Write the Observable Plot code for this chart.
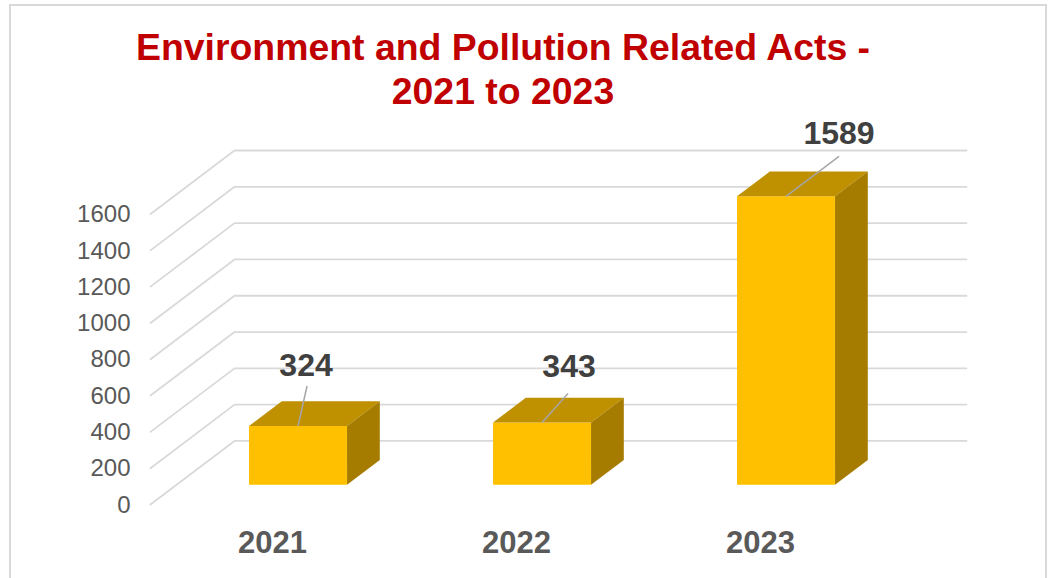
<!DOCTYPE html>
<html>
<head>
<meta charset="utf-8">
<script src="https://cdn.jsdelivr.net/npm/d3@7"></script>
<script src="https://cdn.jsdelivr.net/npm/@observablehq/plot@0.6"></script>
<style>
  html,body{margin:0;padding:0;background:#fff;width:1050px;height:578px;overflow:hidden;font-family:"Liberation Sans",Arial,sans-serif}
  #frame{position:absolute;left:9px;top:4px;width:1038px;height:600px;border:2px solid #d9d9d9;box-sizing:border-box;pointer-events:none}
  #title{position:absolute;left:0;top:25px;width:1006px;text-align:center;color:#c00000;font-weight:700;font-size:37.4px;line-height:44px;margin:0}
  #chart{position:absolute;left:0;top:120px}
  svg{overflow:visible}
</style>
</head>
<body>
<div id="frame"></div>
<h1 id="title">Environment and Pollution Related Acts -<br>2021 to 2023</h1>
<div id="chart"></div>
<script>
const categories = ["2021", "2022", "2023"];
const values = [324, 343, 1589];
const yTicks = [0, 200, 400, 600, 800, 1000, 1200, 1400, 1600];

// 3D projection constants, expressed in scale units
const depthX = 84 / 244, depthY = 350;
const barHalf = 49 / 244, barNear = 0.31, barFar = 0.70;
const pxX = 1 / 244, pxY = 1600 / 290.4;
const project = (u, v, d) => ({x: u + d * depthX, y: v + d * depthY});

// offsets of value labels and of leader ends from the bar's front-top centre, in px
const leaderOffset = [[9, -40], [26, -29], [53, -40]];
const labelOffset = [[8, -60], [27, -56], [53, -63]];

const quad = (id, pts) => pts.map(([u, v, d]) => ({id, ...project(u, v, d)}));
const front = [], top_ = [], side = [], leaders = [], labels = [];
categories.forEach((c, i) => {
  const u = i + 0.5 - 0.5 * pxX, v = values[i], l = u - barHalf, r = u + barHalf;
  front.push(...quad(c, [[l,0,barNear],[r,0,barNear],[r,v,barNear],[l,v,barNear]]));
  top_.push(...quad(c, [[l,v,barNear],[r,v,barNear],[r,v,barFar],[l,v,barFar]]));
  side.push(...quad(c, [[r,0,barNear],[r,0,barFar],[r,v,barFar],[r,v,barNear]]));
  const a = project(u, v, barNear);
  leaders.push({x1: a.x, y1: a.y, x2: a.x + leaderOffset[i][0]*pxX, y2: a.y - leaderOffset[i][1]*pxY});
  labels.push({x: a.x + labelOffset[i][0]*pxX, y: a.y - labelOffset[i][1]*pxY, text: String(v)});
});
const grid = yTicks.flatMap(t => [
  {id: t, ...project(0, t, 0)}, {id: t, ...project(0, t, 1)}, {id: t, ...project(categories.length, t, 1)}
]);

const plot = Plot.plot({
  width: 1050, height: 458,
  marginLeft: 150, marginRight: 84, marginTop: 30, marginBottom: 74,
  style: {background: "transparent", fontFamily: '"Liberation Sans",Arial,sans-serif', overflow: "visible"},
  x: {domain: [0, categories.length + depthX]},
  y: {domain: [0, 1600 + depthY]},
  marks: [
    Plot.line(grid, {x: "x", y: "y", z: "id", stroke: "#d9d9d9", strokeWidth: 1.8}),
    Plot.line(front, {x: "x", y: "y", z: "id", fill: "#ffc000", stroke: "none"}),
    Plot.line(top_, {x: "x", y: "y", z: "id", fill: "#bf9000", stroke: "none"}),
    Plot.line(side, {x: "x", y: "y", z: "id", fill: "#a67c00", stroke: "none"}),
    Plot.link(leaders, {x1: "x1", y1: "y1", x2: "x2", y2: "y2", stroke: "#a6a6a6", strokeWidth: 1.5}),
    Plot.text(labels, {x: "x", y: "y", text: "text", fontSize: 32, fontWeight: 700, fill: "#404040"}),
    Plot.axisY({ticks: yTicks, tickSize: 0, tickPadding: 20, dy: 0.5, fontSize: 24, fill: "#595959", label: null, tickFormat: d => String(d)}),
    Plot.axisX({ticks: categories.map((_, i) => i + 0.5), tickSize: 0, tickPadding: 26.5, fontSize: 31, fontWeight: 700, fill: "#595959", label: null, tickFormat: d => categories[Math.floor(d)]})
  ]
});
document.getElementById("chart").append(plot);
</script>
</body>
</html>
